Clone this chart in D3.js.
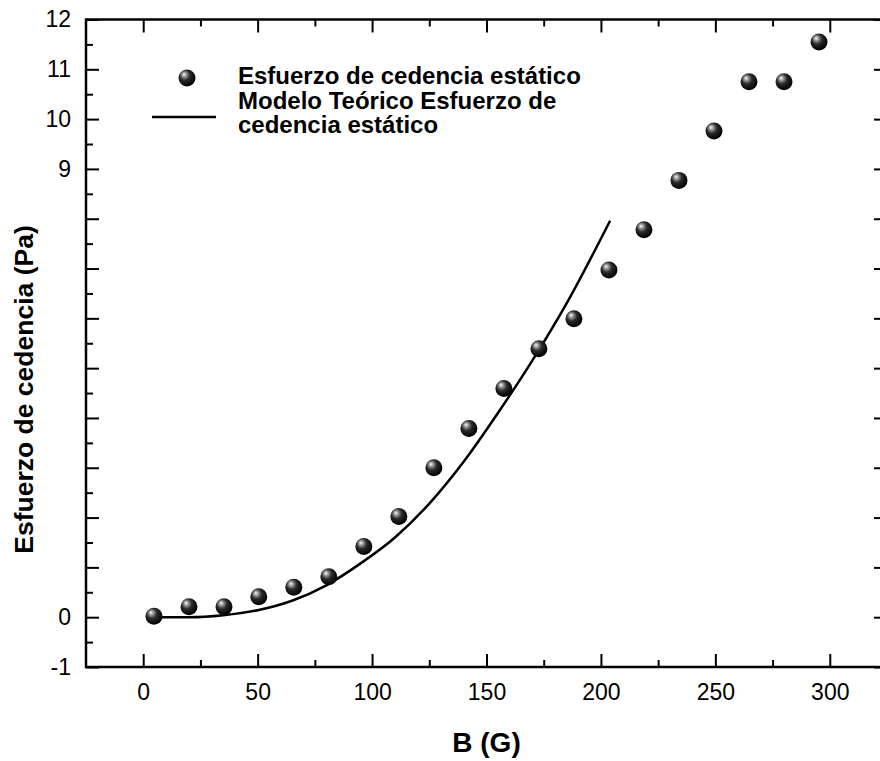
<!DOCTYPE html>
<html>
<head>
<meta charset="utf-8">
<script src="https://cdn.jsdelivr.net/npm/d3@7"></script>
<style>
  html, body { margin: 0; padding: 0; background: #fff; }
  svg { display: block; }
  text { font-family: "Liberation Sans", Arial, sans-serif; }
</style>
</head>
<body>
<svg id="chart" width="880" height="761"></svg>
<script>
// ---- data ----
const bField = [4.7, 20, 35.3, 50.5, 65.8, 81.1, 96.4, 111.7, 127, 142.3, 157.6, 172.9, 188.2, 203.5, 218.8, 234.1, 249.4, 264.7, 280, 295.3];
const stress = [0.02, 0.21, 0.21, 0.41, 0.60, 0.81, 1.42, 2.02, 3.0, 3.79, 4.59, 5.39, 5.99, 6.97, 7.78, 8.77, 9.76, 10.75, 10.75, 11.55];
const modelB = [5, 20, 35, 50, 65, 80, 95, 110, 125, 140, 155, 170, 185, 204];
const modelStress = [0, 0, 0.04, 0.14, 0.33, 0.64, 1.08, 1.6, 2.28, 3.12, 4.1, 5.15, 6.3, 7.96];
const xTicks = [0, 50, 100, 150, 200, 250, 300];
const xMinorTicks = [25, 75, 125, 175, 225, 275];
const yTicks = [-1, 0, 1, 2, 3, 4, 5, 6, 7, 8, 9, 10, 11, 12];
const yTickLabels = ["-1", "0", "", "", "", "", "", "", "", "", "9", "10", "11", "12"];
const yMinorTicks = [-0.5, 0.5, 1.5, 2.5, 3.5, 4.5, 5.5, 6.5, 7.5, 8.5, 9.5, 10.5, 11.5];
const legendLabels = ["Esfuerzo de cedencia estático", "Modelo Teórico Esfuerzo de", "cedencia estático"];
const xTitle = "B (G)";
const yTitle = "Esfuerzo de cedencia (Pa)";

// ---- layout ----
const L = 86, R = 887, T = 19.5, B = 667;
const svg = d3.select("#chart");

const x = d3.scaleLinear().domain([-25, 325]).range([L, R]);
const y = d3.scaleLinear().domain([-1, 12]).range([B, T]);

const defs = svg.append("defs");
const grad = defs.append("radialGradient").attr("id", "sphere")
  .attr("cx", "42%").attr("cy", "38%").attr("r", "60%")
  .attr("fx", "32%").attr("fy", "28%");
grad.append("stop").attr("offset", "0%").attr("stop-color", "#ffffff");
grad.append("stop").attr("offset", "18%").attr("stop-color", "#a8a8a8");
grad.append("stop").attr("offset", "50%").attr("stop-color", "#2c2c2c");
grad.append("stop").attr("offset", "100%").attr("stop-color", "#000000");

function styleAxis(g, color) {
  g.select(".domain").remove();
  g.selectAll(".tick line").attr("stroke", color || "#000").attr("stroke-width", 2);
  g.selectAll(".tick text").attr("fill", "#000").attr("font-size", 23);
}

// bottom axis
svg.append("g").attr("transform", `translate(0,${B})`)
  .call(d3.axisBottom(x).tickValues(xTicks).tickSize(-13).tickSizeOuter(0).tickPadding(17).tickFormat(d3.format("d")))
  .call(g => styleAxis(g));
svg.append("g").attr("transform", `translate(0,${B})`)
  .call(d3.axisBottom(x).tickValues(xMinorTicks).tickSize(-7).tickSizeOuter(0).tickFormat(""))
  .call(g => styleAxis(g));
// top axis
svg.append("g").attr("transform", `translate(0,${T})`)
  .call(d3.axisTop(x).tickValues(xTicks).tickSize(-13).tickSizeOuter(0).tickFormat(""))
  .call(g => styleAxis(g));
svg.append("g").attr("transform", `translate(0,${T})`)
  .call(d3.axisTop(x).tickValues(xMinorTicks).tickSize(-7).tickSizeOuter(0).tickFormat(""))
  .call(g => styleAxis(g));
// left axis
svg.append("g").attr("transform", `translate(${L},0)`)
  .call(d3.axisLeft(y).tickValues(yTicks).tickSize(-13).tickSizeOuter(0).tickPadding(15)
    .tickFormat((d, i) => yTickLabels[i]))
  .call(g => styleAxis(g));
svg.append("g").attr("transform", `translate(${L},0)`)
  .call(d3.axisLeft(y).tickValues(yMinorTicks).tickSize(-7).tickSizeOuter(0).tickFormat(""))
  .call(g => styleAxis(g));
// right axis
svg.append("g").attr("transform", `translate(${R},0)`)
  .call(d3.axisRight(y).tickValues(yTicks).tickSize(-13).tickSizeOuter(0).tickFormat(""))
  .call(g => styleAxis(g));
svg.append("g").attr("transform", `translate(${R},0)`)
  .call(d3.axisRight(y).tickValues(yMinorTicks).tickSize(-7).tickSizeOuter(0).tickFormat(""))
  .call(g => styleAxis(g, "#d4d4d4"));

// frame
svg.append("rect").attr("x", L).attr("y", T).attr("width", R - L).attr("height", B - T)
  .attr("fill", "none").attr("stroke", "#000").attr("stroke-width", 2.5);

// model line
const line = d3.line().x((d, i) => x(modelB[i])).y(d => y(d)).curve(d3.curveMonotoneX);
svg.append("path").datum(modelStress).attr("d", line)
  .attr("fill", "none").attr("stroke", "#000").attr("stroke-width", 2.5);

// points
svg.append("g").selectAll("circle").data(stress).join("circle")
  .attr("cx", (d, i) => x(bField[i])).attr("cy", d => y(d)).attr("r", 8.5)
  .attr("fill", "url(#sphere)");

// legend
const leg = svg.append("g");
leg.append("circle").attr("cx", 187).attr("cy", 78).attr("r", 8.5).attr("fill", "url(#sphere)");
leg.append("line").attr("x1", 152).attr("x2", 216).attr("y1", 117).attr("y2", 117)
  .attr("stroke", "#000").attr("stroke-width", 2.5);
leg.selectAll("text").data(legendLabels).join("text")
  .attr("x", 238).attr("y", (d, i) => 84 + i * 24.5)
  .attr("font-size", 24).attr("font-weight", "bold").text(d => d);

// titles
svg.append("text").attr("x", (L + R) / 2).attr("y", 752).attr("text-anchor", "middle")
  .attr("font-size", 28).attr("font-weight", "bold").text(xTitle);
svg.append("text").attr("transform", `translate(33,${389.5}) rotate(-90)`).attr("text-anchor", "middle")
  .attr("font-size", 26.5).attr("font-weight", "bold").text(yTitle);
</script>
</body>
</html>
